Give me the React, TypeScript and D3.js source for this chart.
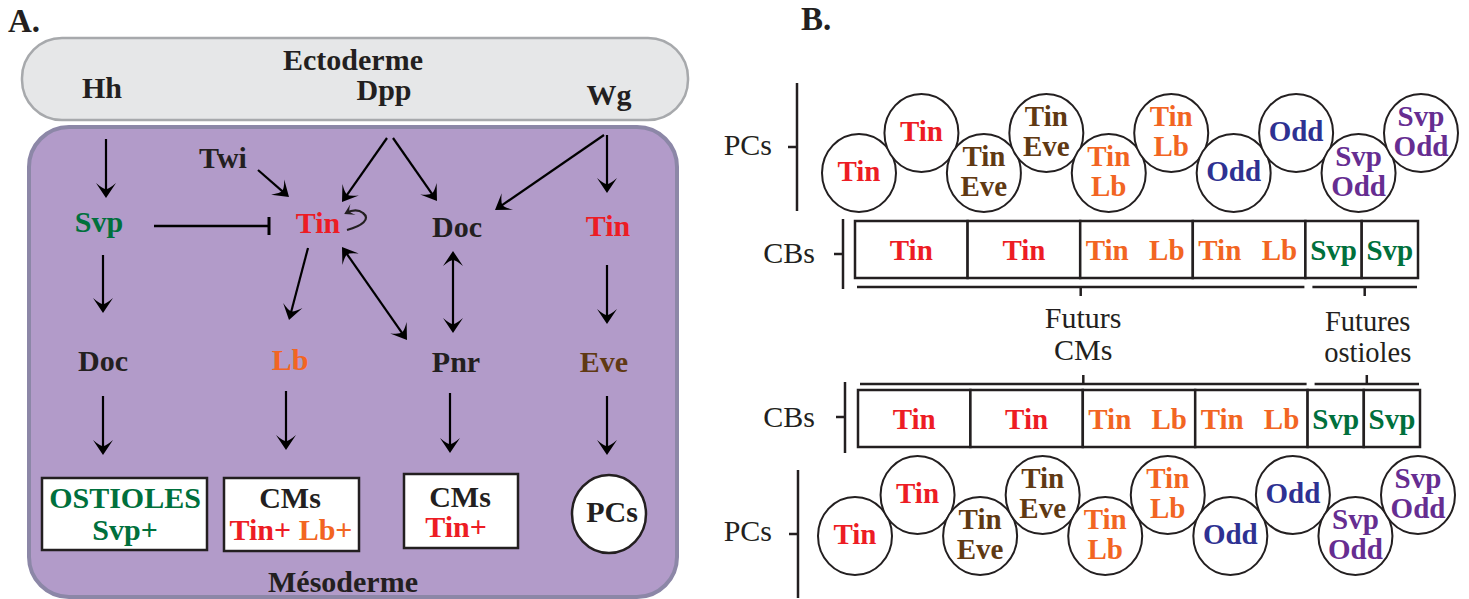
import React from "react";
import * as d3 from "d3";

// Panel B: pericardial cells (PCs) and cardioblasts (CBs) of one segment
const pcLabels = [["Tin"], ["Tin"], ["Tin", "Eve"], ["Tin", "Eve"], ["Tin", "Lb"], ["Tin", "Lb"], ["Odd"], ["Odd"], ["Svp", "Odd"], ["Svp", "Odd"]];
const pcColors = ["red", "red", "brown", "brown", "orange", "orange", "blue", "blue", "purple", "purple"];
const cbLabels = [["Tin"], ["Tin"], ["Tin", "Lb"], ["Tin", "Lb"], ["Svp"], ["Svp"]];
const cbColors = ["red", "red", "orange", "orange", "green", "green"];
const cbSpans = [2, 2, 2, 2, 1, 1];
const fateGroups = [
  { label: ["Futurs", "CMs"], first: 0, last: 3 },
  { label: ["Futures", "ostioles"], first: 4, last: 5 },
];

// Panel A: gene network
const genes = [
  { name: "Hh", color: "dark" }, { name: "Dpp", color: "dark" }, { name: "Wg", color: "dark" },
  { name: "Twi", color: "dark" }, { name: "Svp", color: "green" }, { name: "Tin", color: "red" },
  { name: "Doc", color: "dark" }, { name: "Tin", color: "red" }, { name: "Doc", color: "dark" },
  { name: "Lb", color: "orange" }, { name: "Pnr", color: "dark" }, { name: "Eve", color: "brown" },
];

const palette: Record<string, string> = {
  red: "#ed1c24", orange: "#f26522", green: "#00703c", brown: "#603913",
  blue: "#2e3192", purple: "#662d91", dark: "#231f20",
};
const ink = "#231f20";
const serif = "'Liberation Serif', 'Times New Roman', serif";

// layout of panel A (x, baseline)
const genePos = [
  [102, 98], [384, 100], [609, 105],
  [223, 168], [99, 232], [318, 233], [457, 237], [608, 236],
  [103, 371], [290, 370], [456, 372], [604, 372],
];
const arrows: { p: number[]; both?: boolean }[] = [
  { p: [106, 139, 106, 198] }, { p: [103, 255, 103, 313] }, { p: [103, 396, 103, 455] },
  { p: [258, 170, 289, 197] }, { p: [387, 138, 342, 202] }, { p: [393, 138, 437, 201] },
  { p: [604, 135, 495, 210] }, { p: [607, 135, 607, 193] }, { p: [308, 248, 289, 320] },
  { p: [342, 247, 407, 340], both: true }, { p: [453, 251, 453, 333], both: true },
  { p: [607, 265, 607, 324] }, { p: [286, 391, 286, 450] }, { p: [450, 393, 450, 453] },
  { p: [607, 396, 607, 455] },
];

const SHORT = 6;

function Arrow({ p, both }: { p: number[]; both?: boolean }) {
  const [x1, y1, x2, y2] = p;
  const len = Math.hypot(x2 - x1, y2 - y1);
  const ux = (x2 - x1) / len, uy = (y2 - y1) / len;
  const sx = both ? x1 + ux * SHORT : x1, sy = both ? y1 + uy * SHORT : y1;
  return (
    <line x1={sx} y1={sy} x2={x2 - ux * SHORT} y2={y2 - uy * SHORT}
      stroke="#000" strokeWidth={2.2}
      markerEnd="url(#head)" markerStart={both ? "url(#head)" : undefined} />
  );
}

function CellRow({ x0, x1, high, low }: { x0: number; x1: number; high: number; low: number }) {
  const x = d3.scaleLinear().domain([0, pcLabels.length - 1]).range([x0, x1]);
  return (
    <g>
      {pcLabels.map((lines, i) => {
        const cy = i % 2 === 0 ? low : high;
        const cx = x(i);
        return (
          <g key={i}>
            <ellipse cx={cx} cy={cy} rx={37} ry={39} fill="#fff" stroke={ink} strokeWidth={2} />
            {lines.map((t, j) => (
              <text key={j} x={cx} y={lines.length === 1 ? cy + 8 : cy - 7 + j * 30}
                textAnchor="middle" fontWeight="bold" fontSize={29} fill={palette[pcColors[i]]}>{t}</text>
            ))}
          </g>
        );
      })}
    </g>
  );
}

function CbRow({ top, x0, x1 }: { top: number; x0: number; x1: number }) {
  const edges = d3.cumsum([0, ...cbSpans]);
  const x = d3.scaleLinear().domain([0, d3.sum(cbSpans)]).range([x0, x1]);
  const h = 57;
  return (
    <g>
      {cbLabels.map((lines, i) => {
        const a = x(edges[i]), b = x(edges[i + 1]);
        const col = palette[cbColors[i]];
        return (
          <g key={i}>
            <rect x={a} y={top} width={b - a} height={h} fill="#fff" stroke={ink} strokeWidth={2.5} />
            {lines.length === 1 ? (
              <text x={(a + b) / 2} y={top + 39} textAnchor="middle" fontWeight="bold" fontSize={29} fill={col}>{lines[0]}</text>
            ) : (
              <g>
                <text x={a + 27} y={top + 39} textAnchor="middle" fontWeight="bold" fontSize={29} fill={col}>{lines[0]}</text>
                <text x={b - 26} y={top + 39} textAnchor="middle" fontWeight="bold" fontSize={29} fill={col}>{lines[1]}</text>
              </g>
            )}
          </g>
        );
      })}
    </g>
  );
}

function Brackets({ y, dir, x0, x1 }: { y: number; dir: number; x0: number; x1: number }) {
  const edges = d3.cumsum([0, ...cbSpans]);
  const x = d3.scaleLinear().domain([0, d3.sum(cbSpans)]).range([x0, x1]);
  return (
    <g stroke={ink} strokeWidth={2.5}>
      {fateGroups.map((g, i) => {
        const a = x(edges[g.first]) + (i === 0 ? 2 : 7);
        const b = x(edges[g.last + 1]) - 1;
        const m = (a + b) / 2;
        return (
          <g key={i}>
            <line x1={a} x2={b} y1={y} y2={y} />
            <line x1={m} x2={m} y1={y} y2={y + dir * 9} />
          </g>
        );
      })}
    </g>
  );
}

function Axis({ x, y1, y2, tick, label, lx, ly }: { x: number; y1: number; y2: number; tick: number; label: string; lx: number; ly: number }) {
  return (
    <g>
      <line x1={x} x2={x} y1={y1} y2={y2} stroke={ink} strokeWidth={2.5} />
      <line x1={x - 9} x2={x} y1={tick} y2={tick} stroke={ink} strokeWidth={2.5} />
      <text x={lx} y={ly} textAnchor="end" fontSize={30} fill={ink}>{label}</text>
    </g>
  );
}

export default function App() {
  const edges = d3.cumsum([0, ...cbSpans]);
  const xTop = d3.scaleLinear().domain([0, d3.sum(cbSpans)]).range([855, 1418]);
  return (
    <svg width={1469} height={599} style={{ position: "fixed", left: 0, top: 0, background: "#fff" }}
      fontFamily={serif}>
      <defs>
        <marker id="head" viewBox="-17 -12 24 24" refX={-SHORT} refY={0} markerWidth={24} markerHeight={24}
          markerUnits="userSpaceOnUse" orient="auto-start-reverse">
          <path d="M0,0 L-15,-10 Q-9,-3 -9,0 Q-9,3 -15,10 Z" fill="#000" />
        </marker>
        <marker id="headSmall" viewBox="-12 -8 16 16" refX={-2} refY={0} markerWidth={16} markerHeight={16}
          markerUnits="userSpaceOnUse" orient="auto">
          <path d="M0,0 L-10,-6 Q-6,-2 -6,0 Q-6,2 -10,6 Z" fill="#231f20" />
        </marker>
      </defs>

      {/* Panel A */}
      <text x={8} y={32} fontSize={33} fontWeight="bold" fill={ink}>A.</text>
      <rect x={22} y={38} width={666} height={82} rx={40} fill="#e6e7e8" stroke="#a7a9ac" strokeWidth={2.5} />
      <rect x={29} y={127} width={648} height={470} rx={40} fill="#b29bc9" stroke="#8c87a7" strokeWidth={4} />
      <text x={353} y={70} textAnchor="middle" fontSize={30} fontWeight="bold" fill={ink}>Ectoderme</text>
      {genes.map((g, i) => (
        <text key={i} x={genePos[i][0]} y={genePos[i][1]} textAnchor="middle" fontSize={30}
          fontWeight="bold" fill={palette[g.color]}>{g.name}</text>
      ))}
      {arrows.map((a, i) => <Arrow key={i} p={a.p} both={a.both} />)}
      {/* Svp represses Tin */}
      <line x1={154} x2={269} y1={226} y2={226} stroke="#000" strokeWidth={2.5} />
      <line x1={269} x2={269} y1={217} y2={235} stroke="#000" strokeWidth={3} />
      {/* Tin autoregulation */}
      <path d="M347,230 C362,226 371,219 363,213 C358,209 352,210 346,213" fill="none"
        stroke="#231f20" strokeWidth={2.2} markerEnd="url(#headSmall)" />

      <rect x={42} y={478} width={165} height={72} fill="#fff" stroke={ink} strokeWidth={2.5} />
      <text x={125} y={508} textAnchor="middle" fontSize={30} fontWeight="bold" fill={palette.green}>OSTIOLES</text>
      <text x={125} y={540} textAnchor="middle" fontSize={30} fontWeight="bold" fill={palette.green}>Svp+</text>

      <rect x={224} y={478} width={135} height={73} fill="#fff" stroke={ink} strokeWidth={2.5} />
      <text x={290} y={508} textAnchor="middle" fontSize={30} fontWeight="bold" fill={ink}>CMs</text>
      <text x={291} y={540} textAnchor="middle" fontSize={30} fontWeight="bold">
        <tspan fill={palette.red}>Tin+ </tspan><tspan fill={palette.orange}>Lb+</tspan>
      </text>

      <rect x={404} y={474} width={114} height={74} fill="#fff" stroke={ink} strokeWidth={2.5} />
      <text x={460} y={507} textAnchor="middle" fontSize={30} fontWeight="bold" fill={ink}>CMs</text>
      <text x={456} y={537} textAnchor="middle" fontSize={30} fontWeight="bold" fill={palette.red}>Tin+</text>

      <ellipse cx={609} cy={514} rx={37} ry={39} fill="#fff" stroke={ink} strokeWidth={2.5} />
      <text x={612} y={522} textAnchor="middle" fontSize={30} fontWeight="bold" fill={ink}>PCs</text>

      <text x={343} y={592} textAnchor="middle" fontSize={30} fontWeight="bold" fill={ink}>Mésoderme</text>

      {/* Panel B */}
      <text x={801} y={30} fontSize={33} fontWeight="bold" fill={ink}>B.</text>

      <Axis x={797} y1={83} y2={211} tick={147} label="PCs" lx={772} ly={155} />
      <CellRow x0={859} x1={1421} low={173} high={133} />
      <Axis x={843} y1={219} y2={289} tick={254} label="CBs" lx={815} ly={263} />
      <CbRow top={221} x0={855} x1={1418} />
      <Brackets y={287} dir={1} x0={855} x1={1418} />

      {fateGroups.map((g, i) => {
        const a = xTop(edges[g.first]), b = xTop(edges[g.last + 1]);
        const m = (a + b) / 2 + (i === 0 ? 3 : 6);
        return (
          <g key={i}>
            <text x={m} y={i === 0 ? 328 : 331} textAnchor="middle" fontSize={i === 0 ? 30 : 28.5} fill={ink}>{g.label[0]}</text>
            <text x={m} y={i === 0 ? 360 : 362} textAnchor="middle" fontSize={i === 0 ? 30 : 28.5} fill={ink}>{g.label[1]}</text>
          </g>
        );
      })}

      <Brackets y={384} dir={-1} x0={858} x1={1420} />
      <Axis x={845} y1={382} y2={453} tick={417} label="CBs" lx={815} ly={427} />
      <CbRow top={390} x0={858} x1={1420} />
      <Axis x={798} y1={470} y2={598} tick={534} label="PCs" lx={772} ly={541} />
      <CellRow x0={855} x1={1418} low={536} high={495} />
    </svg>
  );
}
